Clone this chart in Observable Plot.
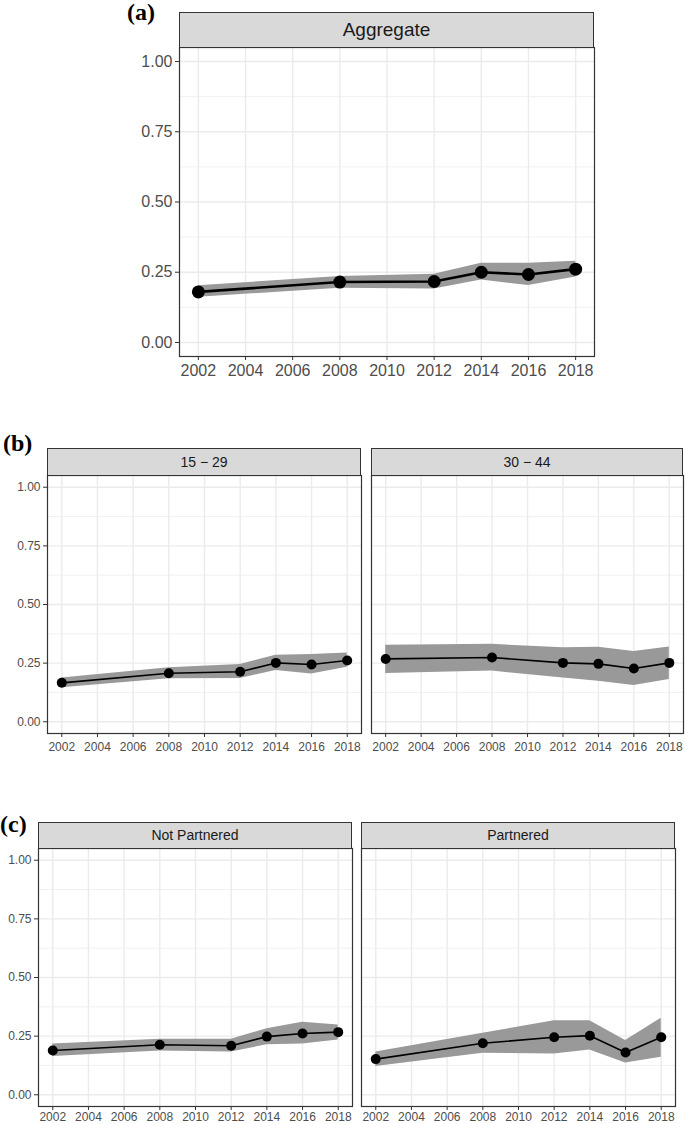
<!DOCTYPE html>
<html>
<head>
<meta charset="utf-8">
<script src="https://cdn.jsdelivr.net/npm/d3@7"></script>
<script src="https://cdn.jsdelivr.net/npm/@observablehq/plot@0.6"></script>
<style>
  html, body { margin: 0; padding: 0; background: #fff; }
  #root { position: relative; width: 685px; height: 1124px; overflow: hidden; font-family: "Liberation Sans", Arial, sans-serif; }
  .strip { position: absolute; box-sizing: border-box; background: #d9d9d9; border: 1.2px solid #333; color: #1a1a1a; text-align: center; font-family: "Liberation Sans", Arial, sans-serif; }
  .tag { position: absolute; font-family: "Liberation Serif", "Times New Roman", serif; font-weight: bold; font-size: 24px; color: #000; line-height: 1; }
</style>
</head>
<body>
<div id="root"></div>
<script>
// ---- data ----
const years = [2002, 2008, 2012, 2014, 2016, 2018];
const xTicks = [2002, 2004, 2006, 2008, 2010, 2012, 2014, 2016, 2018];
const yTicks = [0, 0.25, 0.5, 0.75, 1];
const yMinor = [0.125, 0.375, 0.625, 0.875];

// (a) Aggregate
const aggEst = [0.180, 0.215, 0.217, 0.250, 0.242, 0.261];
const aggLo  = [0.161, 0.193, 0.190, 0.222, 0.203, 0.233];
const aggHi  = [0.202, 0.235, 0.243, 0.282, 0.282, 0.289];

// (b) age groups
const age1529Est = [0.166, 0.207, 0.213, 0.251, 0.244, 0.261];
const age1529Lo  = [0.145, 0.183, 0.184, 0.219, 0.204, 0.232];
const age1529Hi  = [0.187, 0.230, 0.244, 0.284, 0.287, 0.293];

const age3044Est = [0.268, 0.274, 0.251, 0.247, 0.227, 0.251];
const age3044Lo  = [0.206, 0.216, 0.187, 0.173, 0.155, 0.180];
const age3044Hi  = [0.326, 0.330, 0.316, 0.318, 0.300, 0.319];

// (c) partnership status
const notPartEst = [0.189, 0.213, 0.209, 0.248, 0.261, 0.267];
const notPartLo  = [0.163, 0.187, 0.182, 0.213, 0.216, 0.234];
const notPartHi  = [0.217, 0.237, 0.237, 0.281, 0.309, 0.298];

const partEst = [0.152, 0.220, 0.245, 0.252, 0.180, 0.245];
const partLo  = [0.121, 0.177, 0.174, 0.191, 0.135, 0.160];
const partHi  = [0.182, 0.262, 0.316, 0.316, 0.231, 0.326];

const stripLabels = ["Aggregate", "15 \u2212 29", "30 \u2212 44", "Not Partnered", "Partnered"];
const tags = ["(a)", "(b)", "(c)"];

const root = document.getElementById("root");
const FONT = "'Liberation Sans', Arial, sans-serif";

function addTag(text, left, top) {
  const d = document.createElement("div");
  d.className = "tag";
  d.textContent = text;
  d.style.left = left + "px";
  d.style.top = top + "px";
  root.appendChild(d);
}

function panel(o) {
  const mL = 60, mR = 6, mT = 2, mB = 34;
  const rows = years.map((y, i) => ({year: y, est: o.est[i], lo: o.lo[i], hi: o.hi[i]}));
  const marks = [
    Plot.gridY(yMinor, {stroke: "#ebebeb", strokeOpacity: 1, strokeWidth: 0.7}),
    Plot.gridY(yTicks, {stroke: "#ebebeb", strokeOpacity: 1, strokeWidth: 1.4}),
    Plot.gridX(xTicks, {stroke: "#ebebeb", strokeOpacity: 1, strokeWidth: 1.4}),
    Plot.areaY(rows, {x: "year", y1: "lo", y2: "hi", fill: "#999999", fillOpacity: 1}),
    Plot.lineY(rows, {x: "year", y: "est", stroke: "#000", strokeWidth: o.sw}),
    Plot.dot(rows, {x: "year", y: "est", r: o.r, fill: "#000", stroke: "none"}),
    Plot.frame({stroke: "#333", strokeWidth: 1.2}),
    Plot.axisX(xTicks, {tickSize: 4, tickPadding: o.tp, tickFormat: d => String(d), stroke: "#333", fill: "#4d4d4d", fontSize: o.font, label: null})
  ];
  if (o.showY) {
    marks.push(Plot.axisY(yTicks, {tickSize: 4, tickPadding: 3, tickFormat: d3.format(".2f"), stroke: "#333", fill: "#4d4d4d", fontSize: o.font, label: null}));
  }
  const svg = Plot.plot({
    width: o.width + mL + mR,
    height: o.height + mT + mB,
    marginLeft: mL, marginRight: mR, marginTop: mT, marginBottom: mB,
    x: {domain: [2001.2, 2018.8], axis: null},
    y: {domain: [-0.05, 1.05], axis: null},
    style: {fontFamily: FONT, fontSize: o.font + "px", background: "transparent", overflow: "visible", color: "#4d4d4d"},
    marks
  });
  svg.style.position = "absolute";
  svg.style.left = (o.left - mL) + "px";
  svg.style.top = (o.top - mT) + "px";
  root.appendChild(svg);

  const s = document.createElement("div");
  s.className = "strip";
  s.textContent = o.label;
  s.style.left = o.left + "px";
  s.style.top = o.stripTop + "px";
  s.style.width = o.width + "px";
  s.style.height = (o.top - o.stripTop + 1) + "px";
  s.style.fontSize = o.stripFont + "px";
  s.style.lineHeight = (o.top - o.stripTop - 1) + "px";
  root.appendChild(s);
}

// (a)
addTag(tags[0], 127, 0);
panel({left: 179, top: 47, width: 415, height: 309, stripTop: 12, label: stripLabels[0],
       est: aggEst, lo: aggLo, hi: aggHi, showY: true, font: 16, stripFont: 19, r: 6.5, sw: 2.6, tp: 4});

// (b)
addTag(tags[1], 3, 431);
panel({left: 47, top: 475, width: 314, height: 258, stripTop: 448, label: stripLabels[1],
       est: age1529Est, lo: age1529Lo, hi: age1529Hi, showY: true, font: 12, stripFont: 14, r: 5, sw: 1.6, tp: 5});
panel({left: 371, top: 475, width: 312, height: 258, stripTop: 448, label: stripLabels[2],
       est: age3044Est, lo: age3044Lo, hi: age3044Hi, showY: false, font: 12, stripFont: 14, r: 5, sw: 1.6, tp: 5});

// (c)
addTag(tags[2], 0, 812);
panel({left: 38, top: 848, width: 314, height: 258, stripTop: 822, label: stripLabels[3],
       est: notPartEst, lo: notPartLo, hi: notPartHi, showY: true, font: 12, stripFont: 14, r: 5, sw: 1.6, tp: 2});
panel({left: 361, top: 848, width: 314, height: 258, stripTop: 822, label: stripLabels[4],
       est: partEst, lo: partLo, hi: partHi, showY: false, font: 12, stripFont: 14, r: 5, sw: 1.6, tp: 2});
</script>
</body>
</html>
